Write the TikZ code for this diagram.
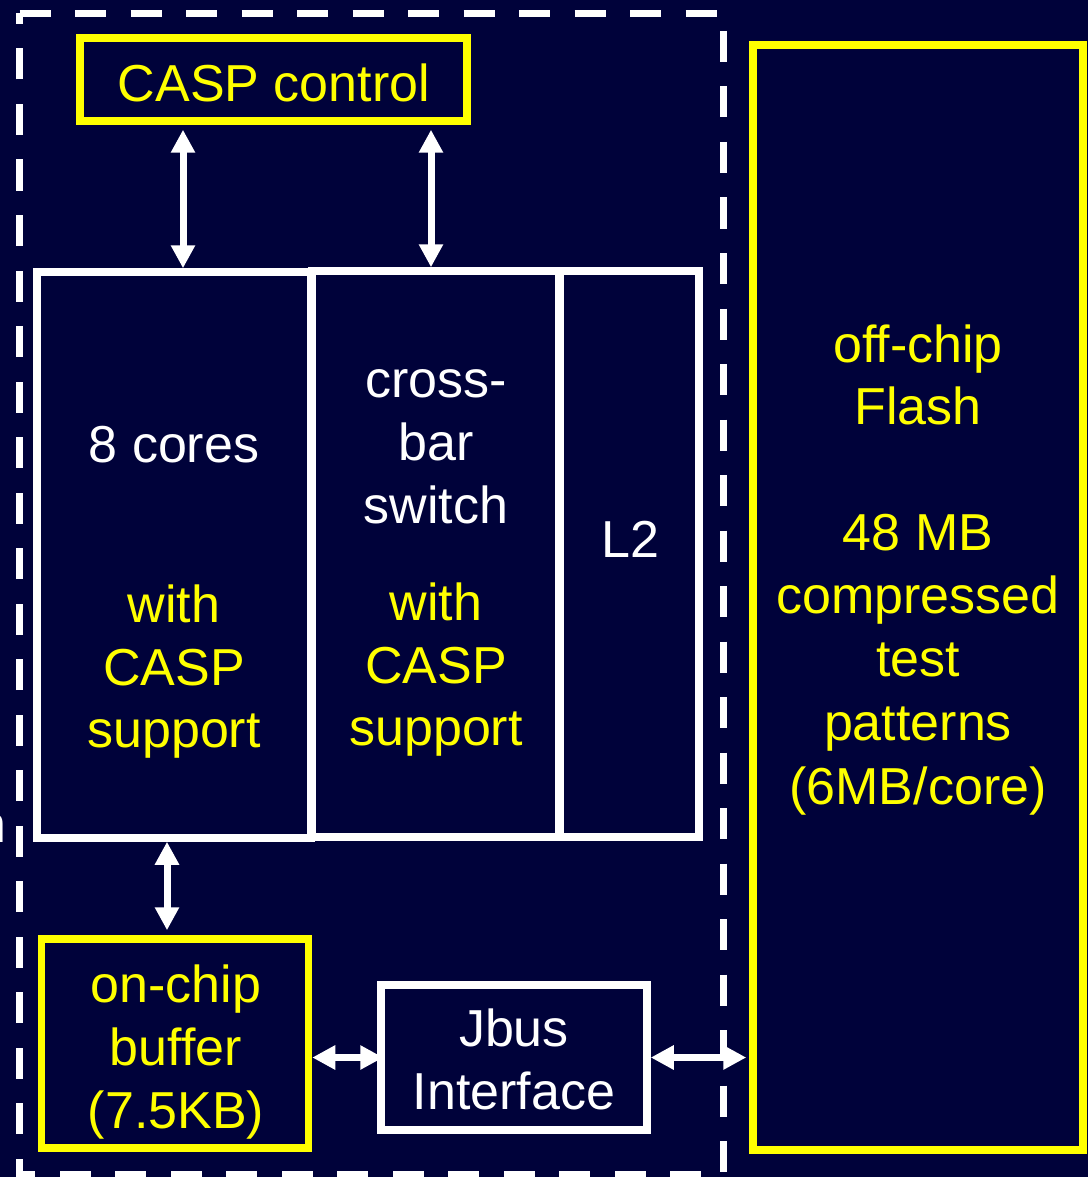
\documentclass[tikz,border=0pt]{standalone}
\usepackage{fontspec}
\setmainfont{Liberation Sans}
\usepackage{xcolor}
\usepackage{tikz}
\usetikzlibrary{arrows.meta}
\definecolor{navy}{RGB}{0,2,58}
\definecolor{casp}{RGB}{255,255,0}

\begin{document}
\begin{tikzpicture}[x=1pt, y=-1pt,
  wbox/.style={draw=white, line width=7.5pt, inner sep=0pt},
  ybox/.style={draw=casp, line width=7.5pt, inner sep=0pt},
  wtxt/.style={text=white, inner sep=0pt, anchor=base,
               font=\fontsize{52}{62}\selectfont},
  ytxt/.style={wtxt, text=casp},
  arr/.style={{Triangle[length=23pt,width=23pt]}-{Triangle[length=23pt,width=23pt]},
              white, line width=7pt},
]
\fill[navy] (0,0) rectangle (1088,1177);
\useasboundingbox (0,0) rectangle (1088,1177);

% chip outline
\draw[white, line width=7pt, dash pattern=on 31pt off 24.5pt]
  (19.5,13.5) -- (723.5,13.5) -- (723.5,1174) -- (19.5,1174) -- cycle;

% blocks
\node[ybox, minimum width=387pt, minimum height=83pt] (ctrl) at (273.5,79.5) {};
\node[wbox, minimum width=274pt, minimum height=566pt] (cores) at (174,555) {};
\node[wbox, minimum width=247pt, minimum height=566pt] (xbar) at (435.5,554) {};
\node[wbox, minimum width=139pt, minimum height=566pt] (l2) at (629.5,554) {};
\node[ybox, minimum width=267pt, minimum height=209pt] (buf) at (175,1043.5) {};
\node[wbox, minimum width=266pt, minimum height=145pt] (jbus) at (514,1057.5) {};
\node[ybox, minimum width=330pt, minimum height=1105pt] (flash) at (918,597.5) {};

% texts
\node[ytxt] (ctrl-t) at (274,102) {CASP control};
\node[wtxt] (cores-t) at (174,462) {8 cores};
\foreach \y/\t [count=\i] in {622/with, 685/CASP, 747/support}
  \node[ytxt] (cores-c\i) at (174,\y) {\t};
\foreach \y/\t [count=\i] in {397/cross-, 460/bar, 523/switch}
  \node[wtxt] (xbar-t\i) at (436,\y) {\t};
\foreach \y/\t [count=\i] in {620/with, 683/CASP, 745/support}
  \node[ytxt] (xbar-c\i) at (436,\y) {\t};
\node[wtxt] (l2-t) at (630,557) {L2};
\foreach \y/\t [count=\i] in {362/off-chip, 424/Flash, 550/48 MB, 613/compressed,
                              676/test, 740/patterns, 804/{(6MB/core)}}
  \node[ytxt] (flash-t\i) at (918,\y) {\t};
\foreach \y/\t [count=\i] in {1002/on-chip, 1065/buffer, 1128/(7.5KB)}
  \node[ytxt] (buf-t\i) at (176,\y) {\t};
\node[wtxt] (jbus-t1) at (514,1046) {Jbus};
\node[wtxt] (jbus-t2) at (514,1109) {Interface};
\node[wtxt, anchor=base east] (frag) at (7,842) {n};

% links
\coordinate (p1) at (183,0);
\coordinate (p2) at (431,0);
\coordinate (p3) at (167,0);
\draw[arr, shorten <=5pt] (ctrl.south -| p1) -- (cores.north -| p1);
\draw[arr, shorten <=5pt] (ctrl.south -| p2) -- (xbar.north -| p2);
\draw[arr, shorten >=5pt] (cores.south -| p3) -- (buf.north -| p3);
\draw[arr, shorten >=-6pt] (buf.east |- jbus.west) -- (jbus.west);
\draw[arr, shorten >=3pt] (jbus.east) -- (jbus.east -| flash.west);
\end{tikzpicture}
\end{document}
